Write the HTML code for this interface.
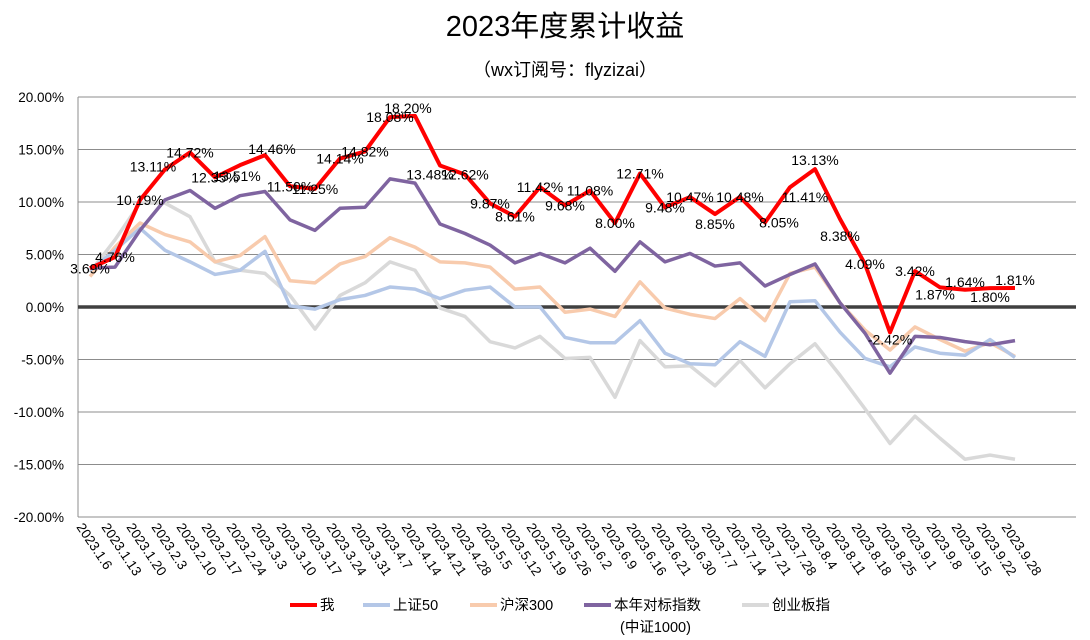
<!DOCTYPE html>
<html><head><meta charset="utf-8"><style>
html,body{margin:0;padding:0;background:#fff;}
svg{display:block;font-family:"Liberation Sans","Noto Sans CJK SC",sans-serif;}
</style></head><body>
<svg id="chart" width="1090" height="640" viewBox="0 0 1090 640">
<text x="565" y="36" text-anchor="middle" font-size="29" fill="#000">2023年度累计收益</text>
<text x="565" y="76" text-anchor="middle" font-size="18" fill="#000">（wx订阅号：flyzizai）</text>
<g id="grid"></g><g id="xlabels"></g><g id="series"></g><g id="labels"></g>
<g id="legend"></g>
</svg>
<script>
const categories=["2023.1.6","2023.1.13","2023.1.20","2023.2.3","2023.2.10","2023.2.17","2023.2.24","2023.3.3","2023.3.10","2023.3.17","2023.3.24","2023.3.31","2023.4.7","2023.4.14","2023.4.21","2023.4.28","2023.5.5","2023.5.12","2023.5.19","2023.5.26","2023.6.2","2023.6.9","2023.6.16","2023.6.21","2023.6.30","2023.7.7","2023.7.14","2023.7.21","2023.7.28","2023.8.4","2023.8.11","2023.8.18","2023.8.25","2023.9.1","2023.9.8","2023.9.15","2023.9.22","2023.9.28"];
const mine=[3.69,4.76,10.19,13.11,14.72,12.35,13.51,14.46,11.50,11.25,14.14,14.82,18.08,18.20,13.48,12.62,9.87,8.61,11.42,9.68,11.08,8.00,12.71,9.48,10.47,8.85,10.48,8.05,11.41,13.13,8.38,4.09,-2.42,3.42,1.87,1.64,1.80,1.81];
const sz50=[3.5,5.4,7.5,5.4,4.3,3.1,3.5,5.3,0.1,-0.2,0.7,1.1,1.9,1.7,0.8,1.6,1.9,0.0,0.0,-2.9,-3.4,-3.4,-1.3,-4.4,-5.4,-5.5,-3.3,-4.7,0.5,0.6,-2.4,-4.9,-5.7,-3.8,-4.4,-4.6,-3.1,-4.8];
const hs300=[2.9,5.7,8.0,6.9,6.2,4.3,4.9,6.7,2.5,2.3,4.1,4.8,6.6,5.7,4.3,4.2,3.8,1.7,1.9,-0.5,-0.2,-0.9,2.4,-0.1,-0.7,-1.1,0.8,-1.3,3.2,3.8,0.4,-2.2,-4.1,-1.9,-3.1,-4.2,-3.4,-4.7];
const zz1000=[3.7,3.8,7.3,10.2,11.1,9.4,10.6,11.0,8.3,7.3,9.4,9.5,12.2,11.8,7.9,7.0,5.9,4.2,5.1,4.2,5.6,3.4,6.2,4.3,5.1,3.9,4.2,2.0,3.1,4.1,0.4,-2.5,-6.3,-2.8,-2.9,-3.3,-3.6,-3.2];
const cyb=[3.3,6.4,9.9,9.9,8.6,4.3,3.5,3.2,1.1,-2.1,1.1,2.3,4.3,3.5,-0.1,-0.9,-3.3,-3.9,-2.8,-4.9,-4.8,-8.6,-3.2,-5.7,-5.6,-7.5,-5.1,-7.7,-5.4,-3.5,-6.5,-9.7,-13.0,-10.4,-12.5,-14.5,-14.1,-14.5];
const yTicks=[20,15,10,5,0,-5,-10,-15,-20];
const labelDx=[0,0,0,-12,0,0,-3,7,0,0,0,0,0,-7,-10,0,0,0,0,0,0,0,0,0,0,0,0,14,15,0,0,0,0,0,-5,0,0,0];
const labelDy=[0,0,0,-3,0,0,11,-6,0,0,0,0,0,-8,9,0,0,0,0,0,0,0,0,0,0,10,0,0,10,-9,17,0,7,0,7,-8,9,-8];
const NS="http://www.w3.org/2000/svg";
const X0=90,DX=25,Y0=307,PY=10.5,LEFT=78,RIGHT=1076;
const xs=i=>X0+DX*i, ys=v=>Y0-v*PY;
function mk(tag,attrs,parent){const e=document.createElementNS(NS,tag);for(const k in attrs)e.setAttribute(k,attrs[k]);parent.appendChild(e);return e;}
const grid=document.getElementById('grid');
yTicks.forEach(t=>{
  const g=mk('line',{x1:LEFT,x2:RIGHT,y1:ys(t),y2:ys(t),stroke:'#8c8c8c','stroke-width':1},grid);
  
  
  const tx=mk('text',{x:64,y:ys(t)+5,'text-anchor':'end','font-size':13.5,fill:'#000'},grid);
  tx.textContent=t.toFixed(2)+'%';
  
  
});
const ax=mk('line',{x1:LEFT,x2:LEFT,y1:ys(20),y2:ys(-20),stroke:'#8c8c8c','stroke-width':1},grid);


const zl=mk('line',{x1:LEFT,x2:RIGHT,y1:ys(0),y2:ys(0),stroke:'#404040','stroke-width':3.5},grid);


const xl=document.getElementById('xlabels');
categories.forEach((c,i)=>{
  const x=xs(i)-14,y=527;
  const t=mk('text',{x:x,y:y,'font-size':13.5,fill:'#000',transform:`rotate(56 ${x} ${y})`},xl);
  t.textContent=c;
  
  
});
const seriesG=document.getElementById('series');
const defs=[["cyb",cyb,"#d9d9d9",3.5],["hs300",hs300,"#f8cbad",3.5],["sz50",sz50,"#b4c7e7",3.5],["zz1000",zz1000,"#7f64a0",3.5],["mine",mine,"#ff0000",4]];
defs.forEach(([n,arr,col,w])=>{
  const p=mk('polyline',{points:arr.map((v,i)=>xs(i)+','+ys(v)).join(' '),fill:'none',stroke:col,'stroke-width':w,'stroke-linejoin':'round'},seriesG);
  
  
});
const lg=document.getElementById('labels');
mine.forEach((v,i)=>{
  const t=mk('text',{x:xs(i)+labelDx[i],y:ys(v)+labelDy[i]+5,'text-anchor':'middle','font-size':14,fill:'#000'},lg);
  t.textContent=v.toFixed(2)+'%';
  
  
});
const leg=document.getElementById('legend');
const items=[["我","#ff0000",290],["上证50","#b4c7e7",363],["沪深300","#f8cbad",470],["本年对标指数","#7f64a0",584],["创业板指","#d9d9d9",742]];
items.forEach(([lab,col,x])=>{
  const l=mk('line',{x1:x,x2:x+27,y1:605,y2:605,stroke:col,'stroke-width':4},leg);
  
  
  const t=mk('text',{x:x+30,y:610,'font-size':14.5,fill:'#000'},leg);
  t.textContent=lab;
  
  
});
const t2=mk('text',{x:620,y:632,'font-size':14.5,fill:'#000'},leg);
t2.textContent='(中证1000)';


</script>
</body></html>
